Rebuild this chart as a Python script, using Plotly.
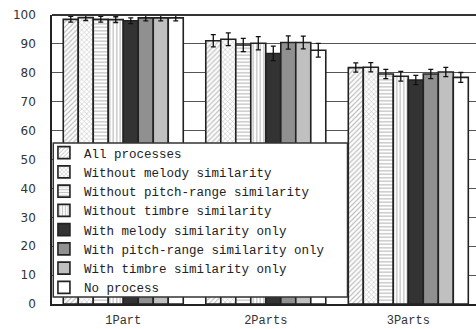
import plotly.graph_objects as go

categories = ["1Part", "2Parts", "3Parts"]
series_names = [
    "All processes",
    "Without melody similarity",
    "Without pitch-range similarity",
    "Without timbre similarity",
    "With melody similarity only",
    "With pitch-range similarity only",
    "With timbre similarity only",
    "No process",
]
values = [
    [98.5, 91.1, 81.8],
    [99.1, 91.6, 81.9],
    [98.5, 89.6, 79.6],
    [98.4, 90.2, 78.8],
    [98.0, 86.7, 77.5],
    [99.0, 90.5, 79.6],
    [99.0, 90.5, 80.3],
    [99.0, 87.8, 78.4],
]
errors = [
    [1.0, 2.1, 1.6],
    [1.0, 2.2, 1.6],
    [1.0, 2.3, 1.6],
    [1.0, 2.3, 1.7],
    [1.0, 2.5, 1.6],
    [1.0, 2.3, 1.6],
    [1.0, 2.2, 1.6],
    [1.0, 2.4, 1.7],
]
y_ticks = [0, 10, 20, 30, 40, 50, 60, 70, 80, 90, 100]

styles = [
    dict(color="white", pattern=dict(shape="/", fgcolor="#7a7a7a", bgcolor="white", size=3.5, solidity=0.35, fillmode="overlay")),
    dict(color="white", pattern=dict(shape="x", fgcolor="#7a7a7a", bgcolor="white", size=3.5, solidity=0.3, fillmode="overlay")),
    dict(color="white", pattern=dict(shape="-", fgcolor="#8a8a8a", bgcolor="white", size=3.5, solidity=0.4, fillmode="overlay")),
    dict(color="white", pattern=dict(shape="|", fgcolor="#8a8a8a", bgcolor="white", size=3.5, solidity=0.4, fillmode="overlay")),
    dict(color="#333333"),
    dict(color="#909090"),
    dict(color="#c0c0c0"),
    dict(color="white"),
]

fig = go.Figure()
for name, vals, errs, st in zip(series_names, values, errors, styles):
    fig.add_trace(go.Bar(
        name=name, x=categories, y=vals,
        marker=dict(**st, line=dict(color="#222222", width=1.6)),
        error_y=dict(type="data", array=errs, color="#111111", thickness=1.3, width=2.5),
    ))

fig.add_shape(type="rect", xref="paper", yref="paper",
              x0=0.003, x1=0.697, y0=(304 - 297) / 289, y1=(304 - 143) / 289,
              fillcolor="white", line=dict(color="#333333", width=1.5), layer="above")

fig.update_layout(
    width=476, height=329,
    margin=dict(l=52, r=0, t=15, b=25, autoexpand=False),
    barmode="group", bargap=0.158, bargroupgap=0,
    plot_bgcolor="white", paper_bgcolor="white",
    showlegend=True,
    legend=dict(
        x=-0.019, y=(304 - 138) / 289, xanchor="left", yanchor="top",
        bgcolor="rgba(0,0,0,0)", borderwidth=0,
        font=dict(family="Liberation Mono", size=12.5, color="#222222"),
        itemwidth=30, tracegroupgap=0,
    ),
    xaxis=dict(
        range=[-0.5, 2.475], showgrid=False, showline=True, linecolor="#222222", linewidth=2,
        ticks="", tickfont=dict(family="Liberation Mono", size=12, color="#333333"),
        ticklabelstandoff=4, automargin=False,
    ),
    yaxis=dict(
        range=[0, 100], tickvals=y_ticks, showgrid=True, gridcolor="#555555", gridwidth=1,
        showline=True, linecolor="#222222", linewidth=1.5, mirror=False,
        ticks="", tickfont=dict(family="DejaVu Sans", size=12, color="#333333"),
        ticklabelstandoff=12, zeroline=False, automargin=False,
    ),
)
fig.add_shape(type="line", xref="paper", yref="paper", x0=0, x1=1, y0=1, y1=1,
              line=dict(color="#333333", width=2))

fig.write_html("out.html", config={"displayModeBar": False},
               post_script="document.body.style.margin='0px';document.body.style.overflow='hidden';")
